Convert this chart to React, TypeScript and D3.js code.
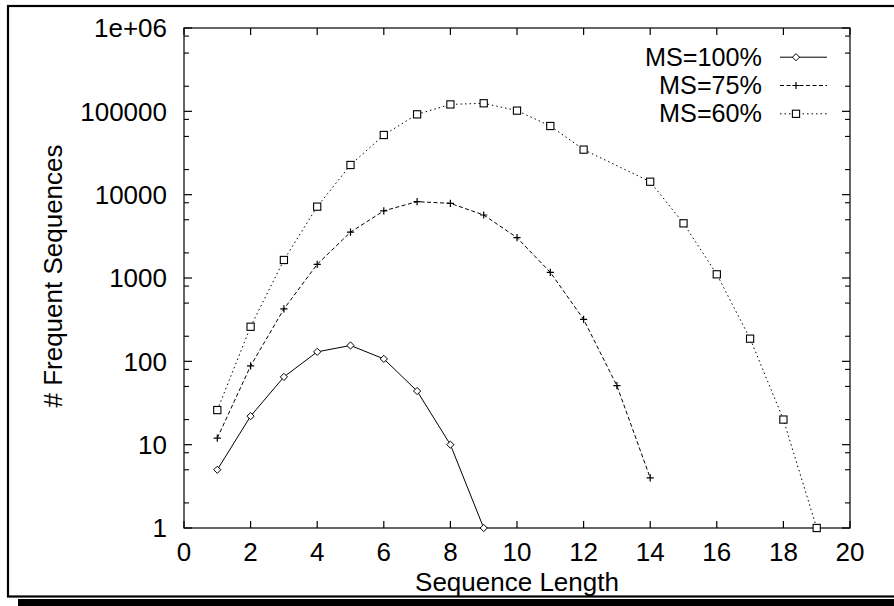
import React from "react";
import * as d3 from "d3";

const ms100X = [1, 2, 3, 4, 5, 6, 7, 8, 9];
const ms100Y = [5, 22, 65, 130, 155, 107, 44, 10, 1];
const ms75X = [1, 2, 3, 4, 5, 6, 7, 8, 9, 10, 11, 12, 13, 14];
const ms75Y = [12, 88, 425, 1460, 3550, 6400, 8240, 7870, 5700, 3050, 1170, 319, 51, 4];
const ms60X = [1, 2, 3, 4, 5, 6, 7, 8, 9, 10, 11, 12, 14, 15, 16, 17, 18, 19];
const ms60Y = [26, 260, 1645, 7180, 22700, 52000, 92000, 121000, 125000, 102000, 66700, 34700, 14300, 4530, 1107, 187, 20, 1];

const seriesNames = ["MS=100%", "MS=75%", "MS=60%"];
const xTicks = [0, 2, 4, 6, 8, 10, 12, 14, 16, 18, 20];
const yTicks = [1, 10, 100, 1000, 10000, 100000, 1000000];
const yTickLabels = ["1", "10", "100", "1000", "10000", "100000", "1e+06"];
const minorMult = [2, 5, 8];
const xLabel = "Sequence Length";
const yLabel = "# Frequent Sequences";

const W = 894;
const H = 606;
const FONT = "'Liberation Sans', Arial, Helvetica, sans-serif";
const FS = 26;
const LEG_FS = 25.2;

function Marker({ kind, x, y }: { kind: number; x: number; y: number }) {
  const s = 3.6;
  if (kind === 0) {
    return (
      <path
        d={`M${x},${y - s}L${x + s},${y}L${x},${y + s}L${x - s},${y}Z`}
        fill="white"
        stroke="black"
        strokeWidth={1}
      />
    );
  }
  if (kind === 1) {
    return (
      <path
        d={`M${x - s},${y}L${x + s},${y}M${x},${y - s}L${x},${y + s}`}
        stroke="black"
        strokeWidth={1.2}
        fill="none"
      />
    );
  }
  return (
    <rect x={x - s} y={y - s} width={2 * s} height={2 * s} fill="white" stroke="black" strokeWidth={1.1} />
  );
}

export default function App() {
  const x = d3.scaleLinear().domain([0, 20]).range([184, 850]);
  const y = d3.scaleLog().domain([1, 1e6]).range([528, 28]);
  const dashes = [undefined, "4,2.5", "1.5,3"];
  const series = [
    { xs: ms100X, ys: ms100Y },
    { xs: ms75X, ys: ms75Y },
    { xs: ms60X, ys: ms60Y },
  ];
  const line = d3
    .line<[number, number]>()
    .x((d) => x(d[0]))
    .y((d) => y(d[1]));

  const minorTicks: number[] = [];
  for (let i = 0; i < yTicks.length - 1; i++) {
    for (const m of minorMult) minorTicks.push(yTicks[i] * m);
  }

  const legendY = [57.2, 85.5, 113.8];
  const legTextX = 762;
  const legL = 780;
  const legR = 827;
  const legM = 796;

  return (
    <div style={{ position: "absolute", left: 0, top: 0 }}>
      <svg width={W} height={H} style={{ display: "block", background: "white" }} fontFamily={FONT}>
        {/* outer frame and shadow */}
        <rect x={18} y={599} width={900} height={7} fill="black" />
        <rect x={8} y={6} width={900} height={590.5} fill="none" stroke="black" strokeWidth={2.2} />

        {/* plot border */}
        <rect x={x(0)} y={y(1e6)} width={x(20) - x(0)} height={y(1) - y(1e6)} fill="none" stroke="black" strokeWidth={1.2} />

        {/* x ticks */}
        {xTicks.map((t) => (
          <g key={"xt" + t}>
            <line x1={x(t)} x2={x(t)} y1={y(1)} y2={y(1) - 7} stroke="black" strokeWidth={1.2} />
            <line x1={x(t)} x2={x(t)} y1={y(1e6)} y2={y(1e6) + 7} stroke="black" strokeWidth={1.2} />
            <text x={x(t)} y={561} textAnchor="middle" fontSize={FS}>
              {String(t)}
            </text>
          </g>
        ))}

        {/* y major ticks */}
        {yTicks.map((t, i) => (
          <g key={"yt" + t}>
            <line x1={x(0)} x2={x(0) + 8} y1={y(t)} y2={y(t)} stroke="black" strokeWidth={1.2} />
            <line x1={x(20)} x2={x(20) - 8} y1={y(t)} y2={y(t)} stroke="black" strokeWidth={1.2} />
            <text x={167} y={y(t)} dy="0.36em" textAnchor="end" fontSize={FS}>
              {yTickLabels[i]}
            </text>
          </g>
        ))}
        {minorTicks.map((t) => (
          <g key={"ym" + t}>
            <line x1={x(0)} x2={x(0) + 5} y1={y(t)} y2={y(t)} stroke="black" strokeWidth={1.1} />
            <line x1={x(20)} x2={x(20) - 5} y1={y(t)} y2={y(t)} stroke="black" strokeWidth={1.1} />
          </g>
        ))}

        {/* axis labels */}
        <text x={517} y={590.5} textAnchor="middle" fontSize={FS}>
          {xLabel}
        </text>
        <text transform={`translate(62,276) rotate(-90)`} textAnchor="middle" fontSize={FS}>
          {yLabel}
        </text>

        {/* series */}
        {series.map((s, k) => {
          const pts: [number, number][] = s.xs.map((xv, i) => [xv, s.ys[i]]);
          return (
            <g key={"s" + k}>
              <path d={line(pts) || ""} fill="none" stroke="black" strokeWidth={1} strokeDasharray={dashes[k]} />
              {pts.map((p, i) => (
                <Marker key={i} kind={k} x={x(p[0])} y={y(p[1])} />
              ))}
            </g>
          );
        })}

        {/* legend */}
        {seriesNames.map((n, k) => (
          <g key={"l" + k}>
            <text x={legTextX} y={legendY[k] + 8.3} textAnchor="end" fontSize={LEG_FS}>
              {n}
            </text>
            <line x1={legL} x2={legR} y1={legendY[k]} y2={legendY[k]} stroke="black" strokeWidth={1} strokeDasharray={dashes[k]} />
            <Marker kind={k} x={legM} y={legendY[k]} />
          </g>
        ))}
      </svg>
    </div>
  );
}
